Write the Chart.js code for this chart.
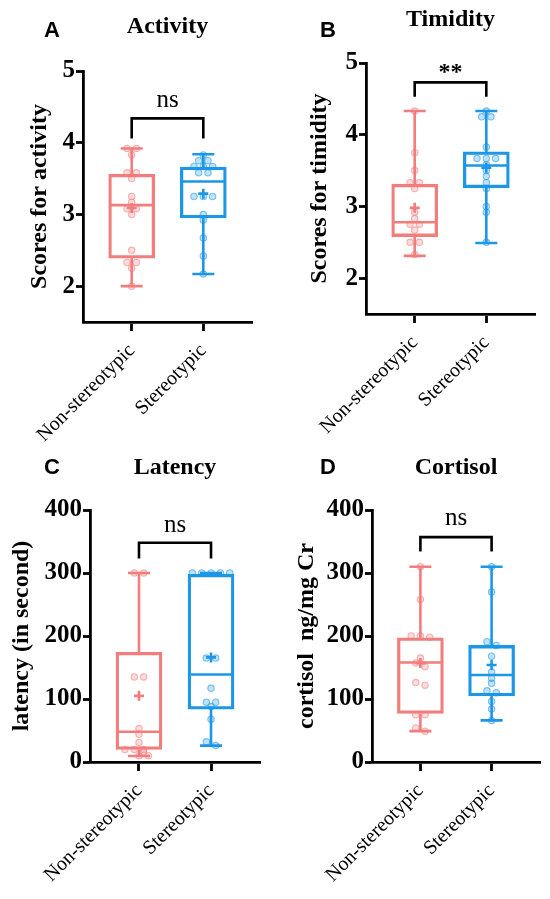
<!DOCTYPE html>
<html>
<head>
<meta charset="utf-8">
<script src="https://cdn.jsdelivr.net/npm/chart.js@4.4.1/dist/chart.umd.min.js"></script>
<style>
  html, body { margin: 0; padding: 0; background: #fff; }
  body { width: 550px; height: 899px; position: relative; overflow: hidden; }
  canvas { position: absolute; }
</style>
</head>
<body>
<canvas id="chartA" width="275" height="450" style="left:0;top:0"></canvas>
<canvas id="chartB" width="275" height="450" style="left:275px;top:0"></canvas>
<canvas id="chartC" width="275" height="459" style="left:0;top:440px"></canvas>
<canvas id="chartD" width="275" height="459" style="left:275px;top:440px"></canvas>
<script>
'use strict';

var groups = ['Non-stereotypic', 'Stereotypic'];

// individual scores (dots)
var activityNon = [3.92, 3.92, 3.83, 3.58, 3.58, 3.5, 3.25, 3.17, 3.08, 3.08, 3.0, 2.5, 2.33, 2.33, 2.25, 2.0];
var activityStereo = [3.83, 3.75, 3.75, 3.67, 3.67, 3.67, 3.58, 3.58, 3.25, 3.25, 3.25, 3.0, 2.92, 2.67, 2.42, 2.17];
var timidityNon = [4.33, 3.75, 3.5, 3.33, 3.33, 3.25, 2.92, 2.83, 2.75, 2.75, 2.67, 2.5, 2.5, 2.33];
var timidityStereo = [4.33, 4.25, 4.25, 3.83, 3.67, 3.67, 3.67, 3.58, 3.5, 3.42, 3.33, 3.25, 3.0, 2.92, 2.5];
var latencyNon = [300, 300, 135, 135, 53, 44, 31, 20, 20, 20, 16, 10, 10];
var latencyStereo = [300, 300, 300, 300, 300, 165, 165, 117, 95, 95, 88, 68, 32, 26];
var cortisolNon = [310, 258, 200, 200, 198, 165, 157, 151, 126, 122, 75, 75, 54, 49];
var cortisolStereo = [310, 270, 191, 185, 168, 143, 133, 125, 113, 110, 96, 84, 66];

// box stats: min, q1, median, q3, max, mean
var activityBoxNon = [2.0, 2.39, 3.13, 3.56, 3.92, 3.09];
var activityBoxStereo = [2.17, 2.95, 3.46, 3.66, 3.84, 3.29];
var timidityBoxNon = [2.31, 2.58, 2.78, 3.31, 4.33, 2.98];
var timidityBoxStereo = [2.49, 3.26, 3.57, 3.76, 4.33, 3.54];
var latencyBoxNon = [9.5, 20, 48, 174, 300, 105];
var latencyBoxStereo = [26, 84, 139, 298, 300, 166];
var cortisolBoxNon = [49, 77, 158, 197, 310, 157];
var cortisolBoxStereo = [66, 105, 138, 185, 310, 154];

// y ticks
var scoreTicks = [2, 3, 4, 5];
var hundredTicks = [0, 100, 200, 300, 400];

// significance brackets: leg bottom, bracket top, label baseline
var activitySig = [4.06, 4.34, 4.5];
var timiditySig = [4.53, 4.73, 4.78];
var latencySig = [323, 348, 365];
var cortisolSig = [334, 357, 376];

var pink = '#f17d7d';
var blue = '#1c97e6';
var dotFill = ['rgba(241,125,125,0.28)', 'rgba(28,151,230,0.28)'];
var dotLine = ['rgba(241,125,125,0.55)', 'rgba(28,151,230,0.55)'];
var serif = '"Liberation Serif", "Times New Roman", serif';

Chart.defaults.font.family = serif;
Chart.defaults.color = '#000';

var panels = [
  { id: 'chartA', letter: 'A', title: 'Activity', yTitle: 'Scores for activity',
    yMin: 1.5, yMax: 5, ticks: scoreTicks, pts: [activityNon, activityStereo],
    box: [activityBoxNon, activityBoxStereo], sig: activitySig, sigText: 'ns',
    area: [83, 71, 252, 322], titleY: 27, yTitleX: 40, letterPos: [52, 31] },
  { id: 'chartB', letter: 'B', title: 'Timidity', yTitle: 'Scores for timidity',
    yMin: 1.5, yMax: 5, ticks: scoreTicks, pts: [timidityNon, timidityStereo],
    box: [timidityBoxNon, timidityBoxStereo], sig: timiditySig, sigText: '**',
    area: [91, 63, 260, 314], titleY: 20, yTitleX: 45, letterPos: [53, 31] },
  { id: 'chartC', letter: 'C', title: 'Latency', yTitle: 'latency (in second)',
    yMin: 0, yMax: 400, ticks: hundredTicks, pts: [latencyNon, latencyStereo],
    box: [latencyBoxNon, latencyBoxStereo], sig: latencySig, sigText: 'ns',
    area: [90, 70, 260, 322], titleY: 28, yTitleX: 22, letterPos: [52, 28] },
  { id: 'chartD', letter: 'D', title: 'Cortisol', yTitle: 'cortisol  ng/mg Cr',
    yMin: 0, yMax: 400, ticks: hundredTicks, pts: [cortisolNon, cortisolStereo],
    box: [cortisolBoxNon, cortisolBoxStereo], sig: cortisolSig, sigText: 'ns',
    area: [97, 70, 265, 322], titleY: 28, yTitleX: 32, letterPos: [53, 28] }
];

// spread dots that share a value sideways, centred on the group
function spread(values, gi, tol) {
  return values.map(function(v, i) {
    var same = [];
    values.forEach(function(w, j) { if (Math.abs(w - v) <= tol) same.push(j); });
    var k = same.indexOf(i);
    return { x: gi + (k - (same.length - 1) / 2) * 0.13, y: v };
  });
}

function boxPlugin(p) {
  var cols = [pink, blue];
  return {
    id: 'boxParts',
    beforeDatasetsDraw: function(chart) {
      var ctx = chart.ctx, xs = chart.scales.x, ys = chart.scales.y;
      ctx.save();
      ctx.lineWidth = 2.6;
      p.box.forEach(function(b, i) {
        var x = xs.getPixelForValue(i);
        var yMin = ys.getPixelForValue(b[0]), yQ1 = ys.getPixelForValue(b[1]);
        var yMed = ys.getPixelForValue(b[2]), yQ3 = ys.getPixelForValue(b[3]);
        var yMax = ys.getPixelForValue(b[4]);
        ctx.strokeStyle = cols[i];
        ctx.beginPath();
        ctx.moveTo(x, yMin); ctx.lineTo(x, yQ1);
        ctx.moveTo(x, yQ3); ctx.lineTo(x, yMax);
        ctx.moveTo(x - 11, yMin); ctx.lineTo(x + 11, yMin);
        ctx.moveTo(x - 11, yMax); ctx.lineTo(x + 11, yMax);
        ctx.moveTo(x - 22, yMed); ctx.lineTo(x + 22, yMed);
        ctx.stroke();
      });
      ctx.restore();
    },
    afterDatasetsDraw: function(chart) {
      var ctx = chart.ctx, xs = chart.scales.x, ys = chart.scales.y;
      ctx.save();
      ctx.lineWidth = 2.6;
      p.box.forEach(function(b, i) {
        var x = xs.getPixelForValue(i), y = ys.getPixelForValue(b[5]);
        ctx.strokeStyle = cols[i];
        ctx.beginPath();
        ctx.moveTo(x - 5, y); ctx.lineTo(x + 5, y);
        ctx.moveTo(x, y - 5); ctx.lineTo(x, y + 5);
        ctx.stroke();
      });
      // significance label
      ctx.fillStyle = '#000';
      ctx.textAlign = 'center';
      ctx.textBaseline = 'alphabetic';
      ctx.font = (p.sigText === 'ns' ? 'normal 25px ' : 'bold 24px ') + serif;
      ctx.fillText(p.sigText, xs.getPixelForValue(0.5), ys.getPixelForValue(p.sig[2]));
      ctx.restore();
    },
    afterDraw: function(chart) {
      var ctx = chart.ctx;
      ctx.save();
      ctx.fillStyle = '#000';
      ctx.font = 'bold 22px "Liberation Sans", Arial, sans-serif';
      ctx.textAlign = 'center';
      ctx.textBaseline = 'middle';
      ctx.fillText(p.letter, p.letterPos[0], p.letterPos[1]);
      ctx.restore();
    }
  };
}

function buildChart(p) {
  var canvas = document.getElementById(p.id);
  var W = canvas.width, H = canvas.height;
  var L = p.area[0], T = p.area[1], R = p.area[2], B = p.area[3];
  var yTitleLH = 24 * 1.2;
  var titleLH = 24 * 1.2;
  var padL = p.yTitleX - yTitleLH / 2;
  var titleTop = p.titleY - titleLH / 2;
  var tol = (p.yMax - p.yMin) * 0.015;

  var datasets = [
    {
      type: 'bar',
      data: [{ x: 0, y: [p.box[0][1], p.box[0][3]] }, { x: 1, y: [p.box[1][1], p.box[1][3]] }],
      backgroundColor: 'rgba(0,0,0,0)',
      borderColor: [pink, blue],
      borderWidth: 2.6,
      borderSkipped: false,
      barThickness: 46,
      order: 3
    },
    {
      type: 'scatter',
      data: spread(p.pts[0], 0, tol),
      backgroundColor: dotFill[0], borderColor: dotLine[0],
      pointRadius: 3.2, pointBorderWidth: 1.1, order: 2
    },
    {
      type: 'scatter',
      data: spread(p.pts[1], 1, tol),
      backgroundColor: dotFill[1], borderColor: dotLine[1],
      pointRadius: 3.2, pointBorderWidth: 1.1, order: 1
    },
    {
      type: 'line',
      data: [{ x: 0, y: p.sig[0] }, { x: 0, y: p.sig[1] }, { x: 1, y: p.sig[1] }, { x: 1, y: p.sig[0] }],
      borderColor: '#000', borderWidth: 2.6, pointRadius: 0, fill: false, tension: 0, order: 0
    }
  ];

  return new Chart(canvas, {
    type: 'scatter',
    data: { datasets: datasets },
    options: {
      responsive: false,
      animation: false,
      layout: { padding: { left: padL, right: W - R, top: 0, bottom: 0 } },
      plugins: {
        legend: { display: false },
        tooltip: { enabled: false },
        title: {
          display: true,
          text: p.title,
          fullSize: false,
          font: { size: 24, weight: 'bold', family: serif },
          color: '#000',
          padding: { top: titleTop, bottom: T - titleTop - titleLH }
        }
      },
      scales: {
        x: {
          type: 'linear',
          min: -0.68,
          max: 1.68,
          offset: false,
          afterBuildTicks: function(s) { s.ticks = [{ value: 0 }, { value: 1 }]; },
          afterFit: function(s) { s.height = H - B; s.paddingLeft = 0; s.paddingRight = 0; },
          ticks: {
            minRotation: 45, maxRotation: 45, autoSkip: false, padding: 8,
            font: { size: 20, family: serif },
            color: '#000',
            callback: function(v) { return groups[Math.round(v)]; }
          },
          grid: { display: true, offset: false, drawOnChartArea: false, drawTicks: true,
                  tickLength: 9, tickWidth: 2.8, tickColor: '#000' },
          border: { display: true, width: 2.8, color: '#000' }
        },
        y: {
          type: 'linear',
          min: p.yMin,
          max: p.yMax,
          afterBuildTicks: function(s) { s.ticks = p.ticks.map(function(v) { return { value: v }; }); },
          afterFit: function(s) { s.width = L - padL; s.paddingTop = 0; s.paddingBottom = 0; },
          ticks: { padding: 1, font: { size: 25, weight: 'bold', family: serif }, color: '#000' },
          grid: { display: true, drawOnChartArea: false, drawTicks: true,
                  tickLength: 7, tickWidth: 2.8, tickColor: '#000' },
          border: { display: true, width: 2.8, color: '#000' },
          title: {
            display: true,
            text: p.yTitle,
            font: { size: 24, weight: 'bold', family: serif },
            color: '#000',
            padding: { top: 0, bottom: 0 }
          }
        }
      }
    },
    plugins: [boxPlugin(p)]
  });
}

panels.forEach(buildChart);
</script>
</body>
</html>
